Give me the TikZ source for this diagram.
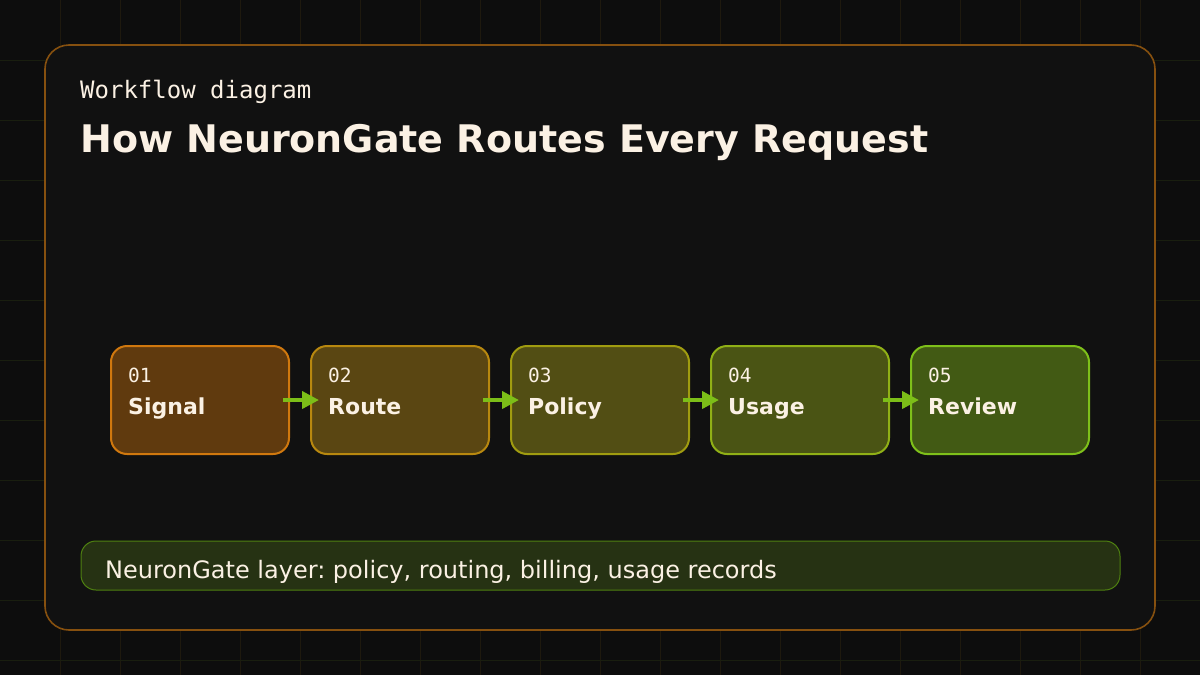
\documentclass[tikz,border=0pt]{standalone}
\usepackage{fontspec}
\setmainfont{DejaVu Sans}
\newfontfamily\monof{DejaVu Sans Mono}
\usetikzlibrary{arrows.meta}
\frenchspacing
\definecolor{bgc}{HTML}{0D0D0D}
\definecolor{panelc}{HTML}{111111}
\definecolor{panelline}{HTML}{86500F}
\definecolor{gridv}{HTML}{1E190E}
\definecolor{gridh}{HTML}{191E0F}
\definecolor{txt}{HTML}{FBF1E4}
\definecolor{fa}{HTML}{603A0E}\definecolor{sa}{HTML}{D0780E}
\definecolor{fb}{HTML}{5A4612}\definecolor{sb}{HTML}{B8880F}
\definecolor{fc}{HTML}{524E14}\definecolor{sc}{HTML}{A09C10}
\definecolor{fd}{HTML}{4A5414}\definecolor{sd}{HTML}{90B016}
\definecolor{fe}{HTML}{425A14}\definecolor{se}{HTML}{7EC01A}
\definecolor{arrc}{HTML}{7CBE18}
\definecolor{barf}{HTML}{263213}
\definecolor{bars}{HTML}{4E8010}
\tikzset{
  stepbox/.style={draw, line width=2pt, rounded corners=16pt, minimum width=178pt, minimum height=108pt, inner sep=0pt},
  numtxt/.style={anchor=base west, text=txt, font=\monof\fontsize{19.5}{22}\selectfont, inner sep=0pt},
  labtxt/.style={anchor=base west, text=txt, font=\bfseries\fontsize{22}{26}\selectfont, inner sep=0pt},
  flow/.style={draw=arrc, line width=4pt, -{Triangle[length=17pt,width=17pt]}, shorten >=-2pt}
}
\begin{document}
\begin{tikzpicture}[x=1pt,y=-1pt]
\useasboundingbox (0,0) rectangle (1200,675);
\fill[bgc] (0,0) rectangle (1200,675);
\foreach \i in {1,...,19} \draw[gridv, line width=1pt] (\i*60,0) -- (\i*60,675);
\foreach \j in {1,...,11} \draw[gridh, line width=1pt] (0,\j*60) -- (1200,\j*60);
\draw[panelline, fill=panelc, line width=1.6pt, rounded corners=24pt] (45,45) rectangle (1155,630);
\node[anchor=base west, inner sep=0pt, text=txt, font=\monof\fontsize{24}{28}\selectfont] (sub) at (80,98) {Workflow diagram};
\node[anchor=base west, inner sep=0pt, text=txt, font=\bfseries\fontsize{38}{44}\selectfont] (title) at (80,152) {How NeuronGate Routes Every Request};
\foreach \k/\f/\s/\n/\t in {1/fa/sa/01/Signal, 2/fb/sb/02/Route, 3/fc/sc/03/Policy, 4/fd/sd/04/Usage, 5/fe/se/05/Review}{
  \node[stepbox, fill=\f, draw=\s] (b\k) at (200+\k*200-200,400) {};
  \node[numtxt] (n\k) at (128+\k*200-200,382) {\n};
  \node[labtxt] (l\k) at (128+\k*200-200,414) {\t};
}
\foreach \a/\b in {1/2,2/3,3/4,4/5}
  \draw[flow] ([xshift=-7pt]b\a.east) -- ([xshift=7pt]b\b.west);
\node[draw=bars, fill=barf, line width=1pt, rounded corners=15pt, minimum width=1039pt, minimum height=49pt, inner sep=0pt] (bar) at (600.5,565.5) {};
\node[anchor=base west, inner sep=0pt, text=txt, font=\fontsize{24}{28}\selectfont] (bartxt) at (105,578) {NeuronGate layer: policy, routing, billing, usage records};
\end{tikzpicture}
\end{document}
